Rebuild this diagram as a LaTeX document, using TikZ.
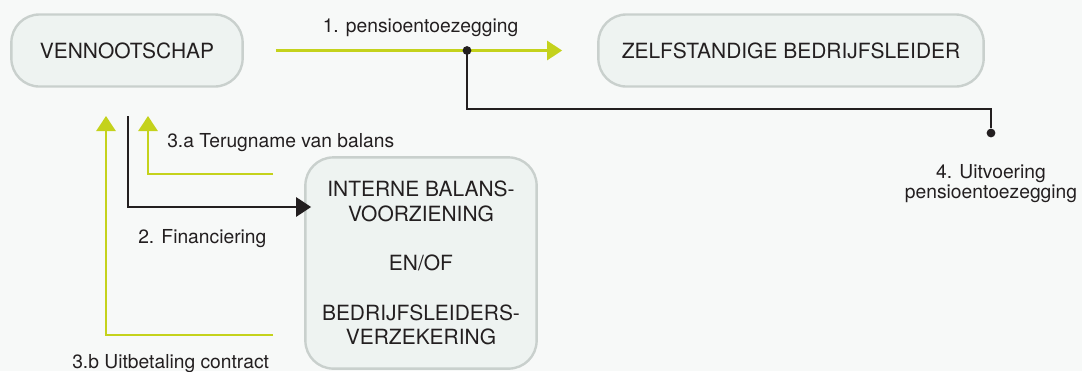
\documentclass[tikz,border=0pt]{standalone}
\usepackage{fontspec}
\setmainfont{TeX Gyre Heros}
\usepackage{xcolor}
\usetikzlibrary{calc}
\usetikzlibrary{positioning}
\usetikzlibrary{arrows.meta}
\definecolor{lime}{RGB}{196,210,28}
\definecolor{ink}{RGB}{35,31,32}
\definecolor{boxfill}{RGB}{238,243,241}
\definecolor{boxline}{RGB}{201,208,205}
\definecolor{paper}{RGB}{247,249,248}
\tikzset{
heavy/.style={line width=1.9pt},
entity/.style={draw=boxline, line width=1.7pt, fill=boxfill, rounded corners=0.7cm,
	text=ink, font=\fontsize{14.9}{17.6}\selectfont, align=center, inner sep=0pt},
greenarrow/.style={draw=lime, heavy, -{Triangle[length=0.375cm,width=0.475cm]}},
blackarrow/.style={draw=ink, heavy, -{Triangle[length=0.375cm,width=0.475cm]}},
blackline/.style={draw=ink, heavy},
junction/.style={circle, fill=ink, inner sep=0pt, minimum size=0.22cm},
caption/.style={text=ink, font=\fontsize{13.7}{14.3}\selectfont, inner sep=0pt},
}

\begin{document}
\begin{tikzpicture}[x=0.025cm, y=-0.025cm]
\fill[paper, use as bounding box] (0,0) rectangle (1082,371);

%Place the nodes
\node[entity, minimum width=5.78cm, minimum height=1.8cm] (vennoot) at (127,50.5) {VENNOOTSCHAP};
\node[entity, minimum width=9.63cm, minimum height=1.8cm] (zelf) at (791,50.5) {ZELFSTANDIGE BEDRIJFSLEIDER};
\node[entity, minimum width=5.78cm, minimum height=5.28cm] (intern) at (421,263)
	{INTERNE BALANS-\\VOORZIENING\\[17.6pt]EN/OF\\[17.6pt]BEDRIJFSLEIDERS-\\VERZEKERING};

\coordinate (split) at (467,50.5);
\coordinate (knik) at (467,109);
\node[junction] (uitv) at (991,133) {};
\coordinate (fin) at (128,116);
\coordinate (terug) at (148,116);
\coordinate (uitbet) at (106,116);

%
\draw[greenarrow, shorten <=0.8cm, shorten >=0.875cm] (vennoot) -- (zelf)
	node[caption, midway, anchor=base, yshift=0.45cm] (toezeg) {1. pensioentoezegging};
\draw[blackline] (split) -- (knik) -| (uitv);
\node[junction] (splitdot) at (split) {};
\node[caption, align=center, below=0.66cm of uitv] (uitvlabel) {4. Uitvoering\\pensioentoezegging};

%
\draw[blackarrow, shorten >=-0.175cm] (fin) |- ([yshift=1.4cm]intern.west);
\draw[greenarrow] ([xshift=-0.775cm, yshift=2.225cm]intern.west) -| (terug);
\draw[greenarrow] ([xshift=-0.775cm, yshift=-1.8cm]intern.west) -| (uitbet);

%
\node[caption, anchor=base west] (teruglabel) at (167,147) {3.a Terugname van balans};
\node[caption, anchor=base west] (finlabel) at (138,243) {2. Financiering};
\node[caption, anchor=base west] (uitbetlabel) at (72,368) {3.b Uitbetaling contract};

\end{tikzpicture}
\end{document}
